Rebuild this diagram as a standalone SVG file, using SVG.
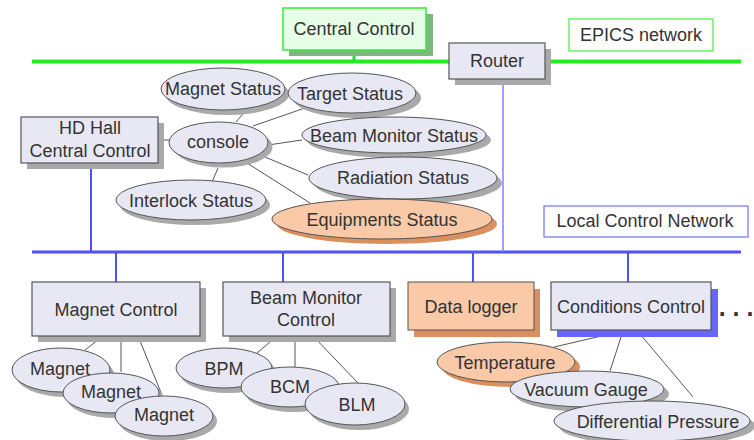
<svg xmlns="http://www.w3.org/2000/svg" width="754" height="440" viewBox="0 0 754 440">
<style>
text{font-family:"Liberation Sans",Arial,sans-serif;font-size:18px;fill:#333;text-anchor:middle}
.box{fill:#e8e8f4;stroke:#555;stroke-width:1.2}
.ell{fill:#e8e8f4;stroke:#555;stroke-width:1}
.sh{fill:#a9a9a9}
.pk{fill:#f9c9a8;stroke:#555;stroke-width:1}
.pks{fill:#d98f5e}
.ln{stroke:#555;stroke-width:1;fill:none}
.bl{stroke:#5050ff;stroke-width:2;fill:none}
</style>
<rect width="754" height="440" fill="#fff"/>
<g id="connectors">
  <line x1="32" y1="61.5" x2="741" y2="61.5" stroke="#22ee22" stroke-width="4"/>
  <line x1="354" y1="50" x2="354" y2="61" stroke="#22dd22" stroke-width="3"/>
  <line x1="32" y1="252" x2="741" y2="252" stroke="#5050ff" stroke-width="3"/>
  <line x1="503" y1="79" x2="503" y2="252" stroke="#8080ff" stroke-width="1.5"/>
  <line class="bl" x1="91" y1="163" x2="91" y2="252"/>
  <line class="bl" x1="116" y1="252" x2="116" y2="282"/>
  <line class="bl" x1="283" y1="252" x2="283" y2="282"/>
  <line class="bl" x1="473" y1="252" x2="473" y2="282"/>
  <line class="bl" x1="628" y1="252" x2="628" y2="282"/>
  <line class="ln" x1="158" y1="140" x2="171" y2="140"/>
  <line class="ln" x1="236" y1="122" x2="248" y2="108"/>
  <line class="ln" x1="253" y1="126" x2="305" y2="108"/>
  <line class="ln" x1="268" y1="145" x2="302" y2="140"/>
  <line class="ln" x1="265" y1="157" x2="308" y2="175"/>
  <line class="ln" x1="247" y1="163" x2="310" y2="203"/>
  <line class="ln" x1="218" y1="168" x2="212" y2="182"/>
  <line class="ln" x1="103" y1="336" x2="85" y2="350"/>
  <line class="ln" x1="121" y1="336" x2="121" y2="372"/>
  <line class="ln" x1="138" y1="336" x2="162" y2="395"/>
  <line class="ln" x1="277" y1="336" x2="257" y2="353"/>
  <line class="ln" x1="295" y1="336" x2="295" y2="367"/>
  <line class="ln" x1="313" y1="336" x2="358" y2="383"/>
  <line class="ln" x1="610" y1="334" x2="554" y2="347"/>
  <line class="ln" x1="622" y1="334" x2="610" y2="371"/>
  <line class="ln" x1="640" y1="334" x2="693" y2="397"/>
</g>
<g id="central-control">
  <rect x="289" y="14" width="144" height="42" fill="#7fb67f"/>
  <rect x="283" y="8" width="143" height="42" fill="#e6fde6" stroke="#33ee33" stroke-width="1.5"/>
  <text x="354" y="35">Central Control</text>
</g>
<g id="epics-label">
  <rect x="569" y="19" width="144" height="32" fill="#fff" stroke="#44ee44" stroke-width="1.2"/>
  <text x="641" y="41">EPICS network</text>
</g>
<g id="router">
  <rect x="455" y="49" width="96" height="36" class="sh"/>
  <rect x="449" y="43" width="96" height="36" class="box"/>
  <text x="497" y="67">Router</text>
</g>
<g id="hd-hall">
  <rect x="27" y="123" width="137" height="46" class="sh"/>
  <rect x="21" y="117" width="137" height="46" class="box"/>
  <text x="90" y="134">HD Hall</text>
  <text x="90" y="157">Central Control</text>
</g>
<g id="magnet-status">
  <ellipse cx="227" cy="94" rx="62" ry="21" class="sh"/>
  <ellipse cx="223" cy="89" rx="62" ry="21" class="ell"/>
  <text x="223" y="95">Magnet Status</text>
</g>
<g id="target-status">
  <ellipse cx="357" cy="98" rx="64" ry="20" class="sh"/>
  <ellipse cx="352" cy="93" rx="64" ry="20" class="ell"/>
  <text x="350" y="100">Target Status</text>
</g>
<g id="console">
  <ellipse cx="223" cy="147" rx="49.5" ry="20.5" class="sh"/>
  <ellipse cx="218.5" cy="142.5" rx="49.5" ry="20.5" class="ell"/>
  <text x="218" y="148">console</text>
</g>
<g id="beam-monitor-status">
  <ellipse cx="399" cy="140" rx="92" ry="18" class="sh"/>
  <ellipse cx="394" cy="135" rx="92" ry="18" class="ell"/>
  <text x="394" y="142">Beam Monitor Status</text>
</g>
<g id="radiation-status">
  <ellipse cx="408" cy="183" rx="94" ry="21" class="sh"/>
  <ellipse cx="403" cy="178" rx="94" ry="21" class="ell"/>
  <text x="403" y="184">Radiation Status</text>
</g>
<g id="interlock-status">
  <ellipse cx="195" cy="205" rx="75" ry="20" class="sh"/>
  <ellipse cx="191" cy="200" rx="75" ry="20" class="ell"/>
  <text x="191" y="207">Interlock Status</text>
</g>
<g id="equipments-status">
  <ellipse cx="387" cy="224" rx="110" ry="20" class="pks"/>
  <ellipse cx="382" cy="219" rx="110" ry="20" class="pk"/>
  <text x="382" y="226">Equipments Status</text>
</g>
<g id="local-label">
  <rect x="544" y="206" width="204" height="31" fill="#fff" stroke="#7070ff" stroke-width="1.2"/>
  <text x="645" y="227">Local Control Network</text>
</g>
<g id="magnet-control">
  <rect x="38" y="288" width="168" height="54" class="sh"/>
  <rect x="32" y="282" width="168" height="54" class="box"/>
  <text x="116" y="316">Magnet Control</text>
</g>
<g id="beam-monitor-control">
  <rect x="229" y="288" width="167" height="54" class="sh"/>
  <rect x="223" y="282" width="167" height="54" class="box"/>
  <text x="306" y="304">Beam Monitor</text>
  <text x="306" y="326">Control</text>
</g>
<g id="data-logger">
  <rect x="414" y="289" width="126" height="48" class="pks"/>
  <rect x="408" y="282" width="126" height="48" class="pk"/>
  <text x="471" y="313">Data logger</text>
</g>
<g id="conditions-control">
  <rect x="557" y="289" width="161" height="48" fill="#6666ff"/>
  <rect x="551" y="282" width="160" height="48" class="box"/>
  <text x="631" y="313">Conditions Control</text>
  <text x="736" y="316" style="font-size:25px;font-weight:bold">. . .</text>
</g>
<g id="magnet-1">
  <ellipse cx="65" cy="375" rx="49" ry="22" class="sh"/>
  <ellipse cx="61" cy="370" rx="49" ry="22" class="ell"/>
  <text x="60" y="375">Magnet</text>
</g>
<g id="magnet-2">
  <ellipse cx="115" cy="398" rx="48" ry="20" class="sh"/>
  <ellipse cx="111" cy="393" rx="48" ry="20" class="ell"/>
  <text x="111" y="398">Magnet</text>
</g>
<g id="magnet-3">
  <ellipse cx="168" cy="421" rx="49" ry="20" class="sh"/>
  <ellipse cx="164" cy="416" rx="49" ry="20" class="ell"/>
  <text x="164" y="421">Magnet</text>
</g>
<g id="bpm">
  <ellipse cx="228" cy="373" rx="48" ry="20" class="sh"/>
  <ellipse cx="224" cy="368" rx="48" ry="20" class="ell"/>
  <text x="224" y="375">BPM</text>
</g>
<g id="bcm">
  <ellipse cx="294" cy="392" rx="49" ry="20" class="sh"/>
  <ellipse cx="290" cy="387" rx="49" ry="20" class="ell"/>
  <text x="290" y="393">BCM</text>
</g>
<g id="blm">
  <ellipse cx="359" cy="409" rx="50" ry="21" class="sh"/>
  <ellipse cx="355" cy="404" rx="50" ry="21" class="ell"/>
  <text x="357" y="411">BLM</text>
</g>
<g id="temperature">
  <ellipse cx="511" cy="367" rx="69" ry="20" class="pks"/>
  <ellipse cx="506" cy="362" rx="69" ry="20" class="pk"/>
  <text x="505" y="369">Temperature</text>
</g>
<g id="vacuum-gauge">
  <ellipse cx="592" cy="394" rx="77" ry="18" class="sh"/>
  <ellipse cx="587" cy="389" rx="77" ry="18" class="ell"/>
  <text x="586" y="396">Vacuum Gauge</text>
</g>
<g id="differential-pressure">
  <ellipse cx="657" cy="426" rx="98" ry="20" class="sh"/>
  <ellipse cx="652" cy="421" rx="98" ry="20" class="ell"/>
  <text x="658" y="428">Differential Pressure</text>
</g>
</svg>
